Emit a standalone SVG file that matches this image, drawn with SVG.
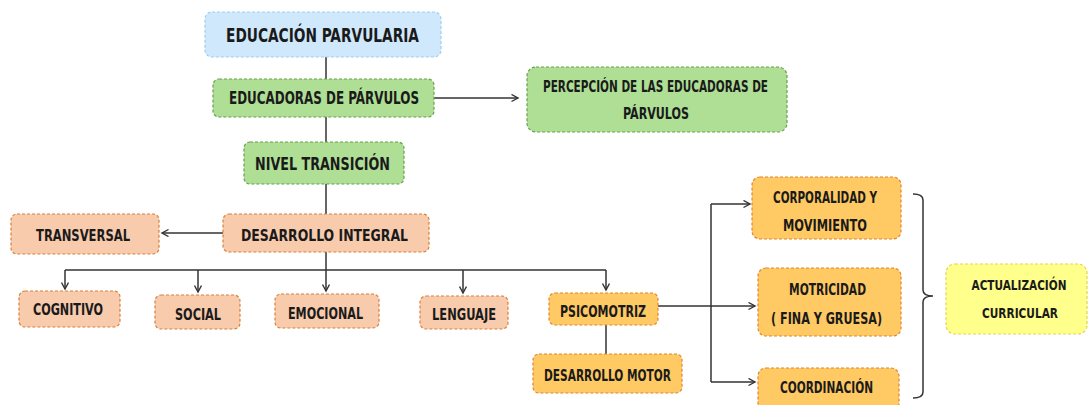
<svg xmlns="http://www.w3.org/2000/svg" width="1088" height="405" viewBox="0 0 1088 405">
<defs>
<style>
.n rect{stroke-width:1.2;stroke-dasharray:3 2}
.blue rect{fill:#cfe8fb;stroke:#9fcdf1}
.green rect{fill:#aedf95;stroke:#6a9e4f}
.peach rect{fill:#f8cbad;stroke:#d9803a}
.orange rect{fill:#ffc963;stroke:#e0862f}
.yellow rect{fill:#ffff8c;stroke:#e6d54a}
.n text{font-family:"Liberation Sans Narrow","DejaVu Sans Condensed","Liberation Sans",sans-serif;font-weight:bold;fill:#1a1a1a;text-anchor:middle;font-size:16px}
.c path{fill:none;stroke:#333;stroke-width:1.5}
</style>
<marker id="ar" markerWidth="10" markerHeight="10" refX="7" refY="4" orient="auto" markerUnits="userSpaceOnUse">
<path d="M0.5,0.5 L7,4 L0.5,7.5" fill="none" stroke="#333" stroke-width="1.4"/>
</marker>
</defs>
<rect width="1088" height="405" fill="#fff"/>
<g id="connectors" class="c">
<path d="M326 57 V79"/>
<path d="M326 117 V142"/>
<path d="M326 184 V214"/>
<path d="M434 98 H518" marker-end="url(#ar)"/>
<path d="M223 233 H162" marker-end="url(#ar)"/>
<path d="M326 252 V270"/>
<path d="M65 270 H606"/>
<path d="M65 270 V289" marker-end="url(#ar)"/>
<path d="M198 270 V292" marker-end="url(#ar)"/>
<path d="M326 270 V291" marker-end="url(#ar)"/>
<path d="M463 270 V293" marker-end="url(#ar)"/>
<path d="M606 270 V290" marker-end="url(#ar)"/>
<path d="M606 325 V354"/>
<path d="M658 306 H755" marker-end="url(#ar)"/>
<path d="M711 204 V382"/>
<path d="M711 204 H750" marker-end="url(#ar)"/>
<path d="M711 382 H755" marker-end="url(#ar)"/>
<path d="M913 194 Q923 194 923 200 V290 Q923 296 933 296 Q923 296 923 302 V392 Q923 398 913 398"/>
</g>
<g id="educacion" class="n blue"><rect x="205" y="12" width="236" height="45" rx="7"/><text x="322.5" y="42" style="font-size:20px" textLength="193" lengthAdjust="spacingAndGlyphs">EDUCACIÓN PARVULARIA</text></g>
<g id="educadoras" class="n green"><rect x="213" y="79" width="221" height="38" rx="6"/><text x="324" y="104" style="font-size:17px" textLength="190" lengthAdjust="spacingAndGlyphs">EDUCADORAS DE PÁRVULOS</text></g>
<g id="percepcion" class="n green"><rect x="527" y="67" width="260" height="65" rx="9"/><text x="655.5" y="92" textLength="225" lengthAdjust="spacingAndGlyphs">PERCEPCIÓN DE LAS EDUCADORAS DE</text><text x="656" y="119" textLength="66" lengthAdjust="spacingAndGlyphs">PÁRVULOS</text></g>
<g id="nivel" class="n green"><rect x="244" y="142" width="160" height="42" rx="6"/><text x="322.5" y="170" style="font-size:17px" textLength="135" lengthAdjust="spacingAndGlyphs">NIVEL TRANSICIÓN</text></g>
<g id="desarrollo-integral" class="n peach"><rect x="223" y="214" width="206" height="38" rx="6"/><text x="324.5" y="241" textLength="167" lengthAdjust="spacingAndGlyphs">DESARROLLO INTEGRAL</text></g>
<g id="transversal" class="n peach"><rect x="11" y="214" width="148" height="40" rx="6"/><text x="83" y="241" textLength="94" lengthAdjust="spacingAndGlyphs">TRANSVERSAL</text></g>
<g id="cognitivo" class="n peach"><rect x="19" y="291" width="101" height="36" rx="6"/><text x="68" y="315" textLength="70" lengthAdjust="spacingAndGlyphs">COGNITIVO</text></g>
<g id="social" class="n peach"><rect x="155" y="295" width="85" height="34" rx="6"/><text x="198" y="320" textLength="46" lengthAdjust="spacingAndGlyphs">SOCIAL</text></g>
<g id="emocional" class="n peach"><rect x="275" y="294" width="104" height="34" rx="6"/><text x="325.5" y="319" textLength="75" lengthAdjust="spacingAndGlyphs">EMOCIONAL</text></g>
<g id="lenguaje" class="n peach"><rect x="420" y="296" width="88" height="33" rx="6"/><text x="464" y="320" textLength="64" lengthAdjust="spacingAndGlyphs">LENGUAJE</text></g>
<g id="psicomotriz" class="n orange"><rect x="549" y="293" width="109" height="32" rx="6"/><text x="603" y="317" textLength="86" lengthAdjust="spacingAndGlyphs">PSICOMOTRIZ</text></g>
<g id="desarrollo-motor" class="n orange"><rect x="533" y="354" width="149" height="39" rx="6"/><text x="607.5" y="381" textLength="127" lengthAdjust="spacingAndGlyphs">DESARROLLO MOTOR</text></g>
<g id="corporalidad" class="n orange"><rect x="752" y="177" width="149" height="62" rx="8"/><text x="825" y="203" textLength="104" lengthAdjust="spacingAndGlyphs">CORPORALIDAD Y</text><text x="825" y="231" textLength="84" lengthAdjust="spacingAndGlyphs">MOVIMIENTO</text></g>
<g id="motricidad" class="n orange"><rect x="758" y="268" width="143" height="68" rx="8"/><text x="827.5" y="295" textLength="77" lengthAdjust="spacingAndGlyphs">MOTRICIDAD</text><text x="826.5" y="324" textLength="111" lengthAdjust="spacingAndGlyphs">( FINA Y GRUESA)</text></g>
<g id="coordinacion" class="n orange"><rect x="758" y="368" width="141" height="44" rx="8"/><text x="826.5" y="393" textLength="93" lengthAdjust="spacingAndGlyphs">COORDINACIÓN</text></g>
<g id="actualizacion" class="n yellow"><rect x="946" y="264" width="141" height="70" rx="9"/><text x="1019" y="290" style="font-size:14px" textLength="95" lengthAdjust="spacingAndGlyphs">ACTUALIZACIÓN</text><text x="1020" y="318" style="font-size:14px" textLength="76" lengthAdjust="spacingAndGlyphs">CURRICULAR</text></g>
</svg>
